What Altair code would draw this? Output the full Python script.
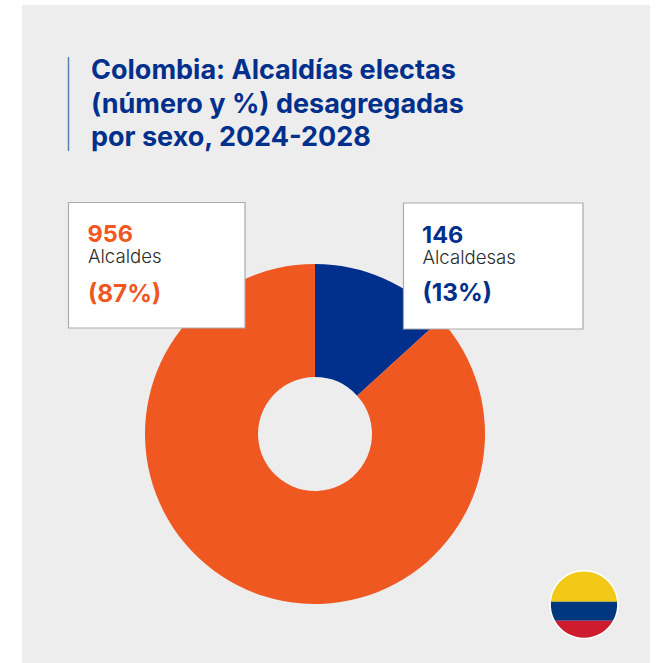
import altair as alt
import pandas as pd

# Election results by sex, drawn clockwise from twelve o'clock
sexes = ["Alcaldesas", "Alcaldes"]
counts = [146, 956]
shares = ["(13%)", "(87%)"]
colors = ["#002F8C", "#EF5821"]
title_lines = [
    "Colombia: Alcaldías electas",
    "(número y %) desagregadas",
    "por sexo, 2024-2028",
]
INK = "#002F8C"
FONT = "Inter"

df = pd.DataFrame({"sexo": sexes, "n": counts, "orden": [0, 1]})


def blank():
    return alt.Chart(pd.DataFrame({"a": [0]}))


def box(x0, x1, y0, y1, fill, stroke=None):
    kw = {"fill": fill}
    if stroke:
        kw.update(stroke=stroke, strokeWidth=1.2)
    return blank().mark_rect(**kw).encode(
        x=alt.value(x0), x2=alt.value(x1), y=alt.value(y0), y2=alt.value(y1)
    )


def label(text, x, y, size, color, weight=400):
    return alt.Chart(pd.DataFrame({"t": [text]})).mark_text(
        align="left", baseline="alphabetic", font=FONT, fontSize=size,
        fontWeight=weight, color=color,
    ).encode(x=alt.value(x), y=alt.value(y), text="t:N")


def flag_band(path, color):
    return blank().mark_point(
        shape=path, size=4400, filled=True, fill=color, opacity=1, strokeWidth=0
    ).encode(x=alt.value(584), y=alt.value(604.5))


panel = box(22, 650, 5, 663, "#EDEDED")
title_rule = blank().mark_rule(color="#5B7DB8", strokeWidth=1.5).encode(
    x=alt.value(68.5), y=alt.value(57), y2=alt.value(151)
)
title_marks = [
    label(line, 91, 79 + 33.5 * i, 27, INK, 700) for i, line in enumerate(title_lines)
]

donut = alt.Chart(df).mark_arc(innerRadius=57, outerRadius=170).encode(
    theta=alt.Theta("n:Q", stack=True, scale=alt.Scale(range=[0, 6.283185])),
    order=alt.Order("orden:Q"),
    color=alt.Color(
        "sexo:N", legend=None, scale=alt.Scale(domain=sexes, range=colors)
    ),
    x=alt.value(315),
    y=alt.value(434),
)

# Callout cards
card_left = box(68.5, 245, 202.5, 328, "#FFFFFF", "#ABABAB")
card_right = box(403.5, 583, 203, 329, "#FFFFFF", "#ABABAB")
card_text = [
    label(str(counts[1]), 87.5, 242, 23.5, colors[1], 700),
    label(sexes[1], 88, 263, 18.6, "#2B2B2B", 300),
    label(shares[1], 88, 302, 24.4, colors[1], 700),
    label(str(counts[0]), 422, 243, 23.5, colors[0], 700),
    label(sexes[0], 422.5, 264, 18.6, "#2B2B2B", 300),
    label(shares[0], 422.5, 301, 24.4, colors[0], 700),
]

# Round flag badge: white ring under three circle segments
flag = [
    blank().mark_point(
        shape="circle", size=4840, filled=True, fill="#FFFFFF", opacity=1, strokeWidth=0
    ).encode(x=alt.value(584), y=alt.value(604.5)),
    flag_band("M-0.996,-0.085 A1,1 0 0 1 0.996,-0.085 Z", "#F2C916"),
    flag_band(
        "M-0.996,-0.085 L0.996,-0.085 A1,1 0 0 1 0.872,0.49 L-0.872,0.49 A1,1 0 0 1 -0.996,-0.085 Z",
        "#00387F",
    ),
    flag_band("M-0.872,0.49 L0.872,0.49 A1,1 0 0 1 -0.872,0.49 Z", "#CE1B2E"),
]

chart = alt.layer(
    panel, title_rule, *title_marks, donut, card_left, card_right, *card_text, *flag
).properties(
    width=665, height=663, padding=0, background="#FFFFFF",
    autosize=alt.AutoSizeParams(type="none"),
).configure_view(stroke=None)

chart.save("out.html", embed_options={"renderer": "svg", "actions": False})
